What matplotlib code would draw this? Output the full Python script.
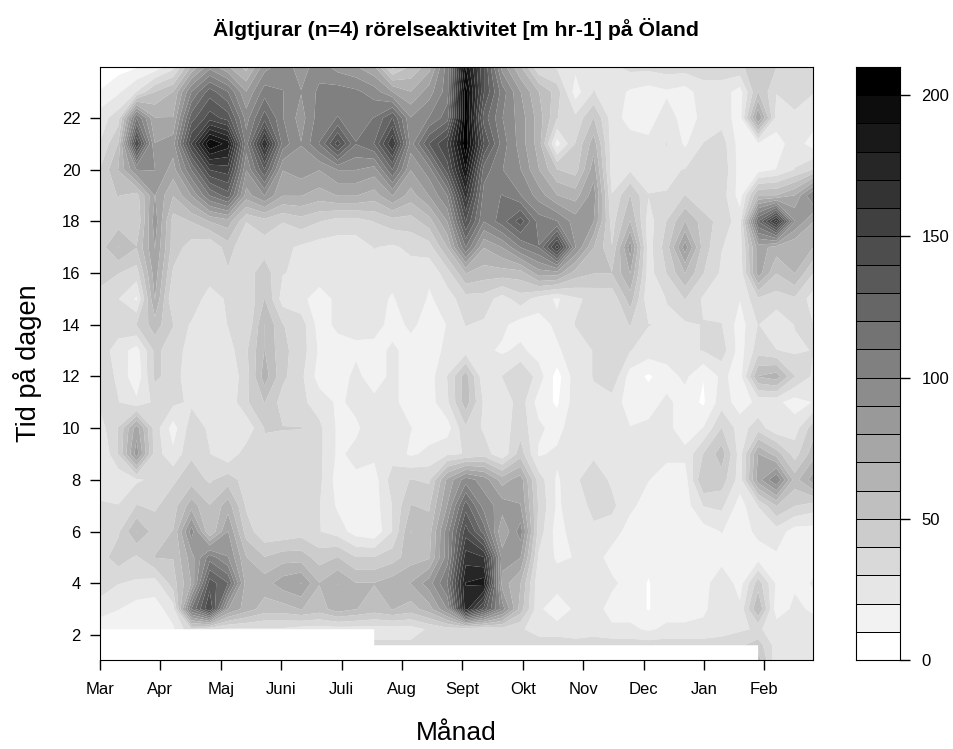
# -*- coding: utf-8 -*-
import numpy as np
import matplotlib
matplotlib.use('Agg')
import matplotlib.pyplot as plt
from matplotlib.colors import ListedColormap, BoundaryNorm

plt.rcParams['font.family'] = ['Liberation Sans', 'DejaVu Sans']

months = ['Mar', 'Apr', 'Maj', 'Juni', 'Juli', 'Aug', 'Sept', 'Okt', 'Nov', 'Dec', 'Jan', 'Feb']
hour_ticks = [2, 4, 6, 8, 10, 12, 14, 16, 18, 20, 22]
bar_ticks = [0, 50, 100, 150, 200]
levels = list(range(0, 220, 10))

nan = float('nan')
hours = [1, 1.6, 2.22, 3, 4, 5, 6, 7, 8, 9, 10, 11, 12, 13, 14, 15, 16, 17, 18, 19, 20, 21, 22, 23, 24]

# values, bottom row first, 40 columns each
activity = [
    [nan] * 36 + [55, 22, 22, 22],
    [nan] * 15 + [32, 32, 32, 32, 33, 35, 35, 35, 35, 35, 35, 35, 35, 35, 35, 35, 35, 35, 35, 35, 38, 45, 25, 22, 22],
    [12, 12, 14, 15, 18, 38, 31, 28, 28, 28, 28, 25, 25, 25, 25, 25, 25, 25, 31, 35, 32, 31, 35, 31, 25, 25, 22, 25, 22, 22, 18, 22, 22, 22, 25, 28, 31, 25, 25, 25],
    [25, 20, 15, 15, 25, 110, 150, 80, 65, 55, 55, 60, 55, 65, 60, 55, 60, 55, 65, 90, 175, 135, 95, 55, 22, 12, 22, 25, 15, 15, 9, 15, 15, 18, 25, 22, 60, 14, 22, 18],
    [35, 30, 28, 25, 45, 70, 135, 120, 65, 65, 75, 80, 60, 70, 60, 60, 65, 70, 85, 110, 180, 185, 75, 60, 22, 25, 22, 25, 22, 15, 9, 15, 15, 15, 28, 15, 45, 18, 18, 20],
    [35, 45, 38, 50, 50, 75, 105, 90, 60, 50, 55, 55, 45, 50, 40, 40, 45, 55, 58, 95, 165, 160, 85, 80, 28, 18, 20, 25, 15, 15, 12, 15, 15, 15, 15, 15, 15, 18, 15, 18],
    [32, 38, 60, 45, 50, 95, 50, 80, 45, 32, 32, 35, 30, 25, 15, 12, 30, 60, 55, 95, 145, 115, 70, 95, 35, 15, 25, 28, 25, 15, 15, 15, 15, 15, 20, 15, 22, 25, 15, 15],
    [30, 30, 40, 38, 45, 65, 50, 65, 38, 32, 30, 30, 30, 18, 15, 15, 30, 50, 48, 80, 125, 95, 85, 80, 38, 18, 25, 32, 32, 22, 15, 15, 15, 30, 32, 15, 30, 50, 40, 35],
    [28, 22, 28, 32, 38, 45, 38, 45, 35, 38, 30, 32, 32, 15, 18, 15, 35, 40, 38, 72, 95, 85, 65, 75, 35, 18, 28, 35, 28, 25, 20, 15, 15, 50, 45, 25, 75, 100, 55, 75],
    [18, 40, 85, 35, 22, 38, 30, 22, 35, 38, 35, 32, 32, 18, 22, 22, 25, 18, 22, 28, 30, 35, 22, 45, 18, 22, 28, 28, 28, 25, 25, 22, 22, 40, 55, 25, 70, 55, 35, 55],
    [25, 40, 75, 35, 15, 35, 28, 22, 22, 40, 40, 40, 32, 18, 18, 25, 25, 20, 15, 15, 38, 28, 25, 35, 22, 15, 28, 28, 22, 20, 22, 22, 15, 20, 40, 25, 35, 22, 25, 45],
    [32, 30, 22, 32, 32, 28, 25, 22, 38, 50, 35, 32, 25, 18, 22, 22, 22, 15, 15, 28, 55, 28, 22, 35, 15, 8, 25, 28, 25, 15, 15, 22, 15, 8, 25, 15, 22, 22, 15, 20],
    [35, 28, 12, 42, 35, 22, 22, 22, 35, 65, 42, 32, 15, 15, 22, 15, 22, 15, 15, 30, 55, 22, 30, 40, 25, 5, 25, 30, 38, 15, 8, 15, 22, 10, 22, 15, 60, 65, 40, 28],
    [35, 25, 15, 42, 35, 25, 22, 25, 38, 60, 42, 35, 18, 15, 18, 15, 22, 15, 15, 22, 25, 22, 18, 22, 15, 18, 25, 30, 32, 30, 25, 25, 28, 30, 35, 15, 35, 30, 28, 30],
    [35, 35, 40, 55, 40, 28, 22, 30, 30, 60, 40, 35, 15, 22, 22, 25, 15, 22, 15, 20, 30, 28, 22, 15, 15, 22, 30, 30, 35, 40, 30, 28, 28, 30, 30, 15, 30, 22, 30, 30],
    [35, 30, 18, 70, 30, 40, 22, 32, 30, 50, 25, 22, 15, 22, 22, 25, 18, 30, 18, 25, 35, 35, 25, 35, 25, 18, 28, 32, 32, 55, 22, 30, 40, 28, 25, 20, 38, 35, 38, 25],
    [45, 40, 35, 75, 38, 35, 38, 38, 35, 45, 30, 28, 25, 25, 25, 25, 25, 25, 22, 35, 60, 55, 55, 55, 75, 75, 55, 50, 50, 70, 25, 40, 60, 40, 28, 22, 75, 50, 60, 40],
    [45, 60, 50, 80, 45, 35, 30, 45, 30, 35, 32, 28, 25, 25, 25, 30, 28, 32, 35, 60, 110, 70, 80, 100, 110, 155, 90, 60, 40, 85, 25, 45, 85, 45, 30, 25, 75, 65, 60, 60],
    [45, 45, 40, 85, 45, 50, 60, 65, 40, 45, 40, 45, 40, 35, 35, 40, 45, 45, 55, 80, 140, 100, 115, 135, 105, 100, 85, 80, 35, 60, 25, 40, 60, 45, 35, 25, 120, 165, 90, 70],
    [45, 50, 45, 80, 60, 80, 110, 125, 75, 90, 70, 70, 65, 70, 70, 65, 80, 65, 80, 100, 165, 105, 110, 100, 85, 70, 65, 85, 30, 50, 30, 30, 40, 30, 35, 15, 60, 60, 70, 100],
    [40, 60, 90, 90, 75, 110, 150, 155, 90, 130, 80, 85, 80, 90, 90, 85, 120, 80, 95, 135, 190, 115, 100, 90, 70, 50, 45, 75, 25, 28, 25, 28, 30, 32, 38, 15, 15, 20, 30, 40],
    [30, 50, 150, 80, 85, 150, 200, 185, 105, 170, 105, 90, 110, 145, 110, 120, 160, 95, 130, 150, 208, 140, 105, 85, 65, 15, 40, 65, 25, 25, 22, 30, 18, 30, 35, 15, 18, 15, 25, 15],
    [25, 35, 110, 70, 70, 125, 145, 135, 95, 125, 100, 85, 105, 110, 105, 110, 130, 90, 100, 115, 205, 125, 100, 85, 65, 40, 32, 50, 25, 15, 15, 25, 15, 22, 25, 15, 80, 25, 25, 25],
    [10, 18, 30, 50, 60, 100, 125, 110, 80, 105, 100, 90, 102, 105, 102, 95, 80, 70, 85, 105, 205, 140, 105, 80, 60, 45, 15, 30, 25, 18, 15, 18, 15, 25, 25, 15, 50, 30, 40, 30],
    [5, 5, 8, 12, 25, 60, 85, 70, 55, 85, 95, 85, 95, 85, 80, 70, 35, 50, 65, 105, 190, 140, 85, 60, 30, 28, 22, 28, 28, 33, 33, 35, 35, 35, 35, 38, 45, 40, 32, 30],
]

W, H = 954, 749


def px_axes(left, right, top, bottom):
    return [left / W, 1 - bottom / H, (right - left) / W, (bottom - top) / H]


fig = plt.figure(figsize=(W / 100, H / 100), dpi=100)
greys = [str(1 - n / 20) for n in range(len(levels) - 1)]
cmap = ListedColormap(greys)
norm = BoundaryNorm(levels, cmap.N)

ax = fig.add_axes(px_axes(100, 813, 67, 660))
# small nudge so no grid value sits exactly on a contour level
z = np.ma.masked_invalid(np.array(activity, dtype=float) + 0.4)
x = np.linspace(0, 11.805, z.shape[1])
ax.contourf(x, hours, z, levels=levels, cmap=cmap, norm=norm, corner_mask=False, antialiased=True)
ax.set_xlim(0, 11.805)
ax.set_ylim(1.03, 23.97)
ax.set_xticks(range(len(months)))
ax.set_xticklabels(months)
ax.set_yticks(hour_ticks)
ax.tick_params(length=7, width=1, labelsize=12)
ax.tick_params(axis='x', pad=9)
ax.tick_params(axis='y', pad=7)
ax.set_xlabel('Månad', fontsize=19, labelpad=17)
ax.set_ylabel('Tid på dagen', fontsize=19.5, labelpad=14)
ax.set_title('Älgtjurar (n=4) rörelseaktivitet [m hr-1] på Öland', fontsize=15.3, fontweight='bold', pad=22)

cax = fig.add_axes(px_axes(856, 900, 67, 660))
cz = np.array(levels[:-1]).reshape(-1, 1) + 5
cax.pcolormesh([0, 1], levels, cz, cmap=cmap, norm=norm, edgecolors='black', linewidth=0.6)
cax.set_xlim(0, 1)
cax.set_ylim(0, 210)
cax.set_xticks([])
cax.yaxis.tick_right()
cax.set_yticks(bar_ticks)
cax.tick_params(axis='y', length=7, width=1, labelsize=12, pad=8.5)

plt.savefig('out.png', dpi=100)
